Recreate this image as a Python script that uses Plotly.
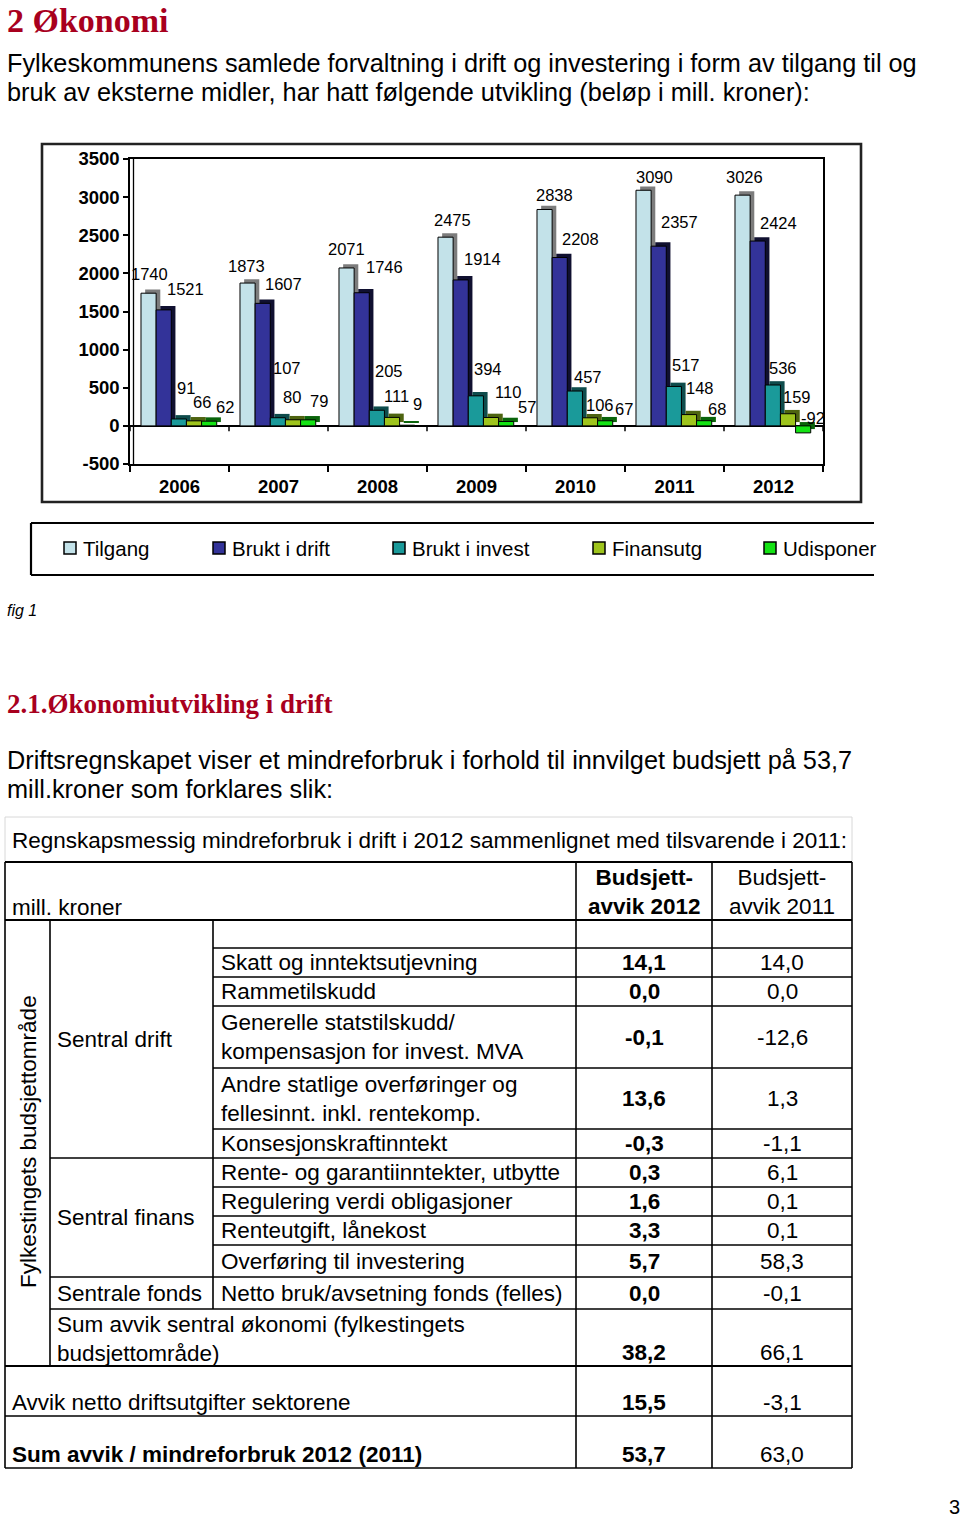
import plotly.graph_objects as go

# ---------------- data ----------------
years = ["2006", "2007", "2008", "2009", "2010", "2011", "2012"]
series_names = ["Tilgang", "Brukt i drift", "Brukt i invest", "Finansutg", "Udisponert"]
tilgang = [1740, 1873, 2071, 2475, 2838, 3090, 3026]
brukt_i_drift = [1521, 1607, 1746, 1914, 2208, 2357, 2424]
brukt_i_invest = [91, 107, 205, 394, 457, 517, 536]
finansutg = [66, 80, 111, 110, 106, 148, 159]
udisponert = [62, 79, 9, 57, 67, 68, -92]
y_tick_values = [-500, 0, 500, 1000, 1500, 2000, 2500, 3000, 3500]
# legend text as printed (last label is clipped by the legend box in the source)
legend_labels = ["Tilgang", "Brukt i drift", "Brukt i invest", "Finansutg", "Udisponer"]

table_title = "Regnskapsmessig mindreforbruk i drift i 2012 sammenlignet med tilsvarende i 2011:"
header_unit = "mill. kroner"
header_2012 = "Budsjett-<br>avvik 2012"
header_2011 = "Budsjett-<br>avvik 2011"
area_label = "Fylkestingets budsjettområde"
group_labels = ["Sentral drift", "Sentral finans", "Sentrale fonds"]
table_items = [
    "Skatt og inntektsutjevning",
    "Rammetilskudd",
    "Generelle statstilskudd/<br>kompensasjon for invest. MVA",
    "Andre statlige overføringer og<br>fellesinnt. inkl. rentekomp.",
    "Konsesjonskraftinntekt",
    "Rente- og garantiinntekter, utbytte",
    "Regulering verdi obligasjoner",
    "Renteutgift, lånekost",
    "Overføring til investering",
    "Netto bruk/avsetning fonds (felles)",
    "Sum avvik sentral økonomi (fylkestingets<br>budsjettområde)",
    "Avvik netto driftsutgifter sektorene",
    "<b>Sum avvik / mindreforbruk 2012 (2011)</b>",
]
avvik_2012 = [14.1, 0.0, -0.1, 13.6, -0.3, 0.3, 1.6, 3.3, 5.7, 0.0, 38.2, 15.5, 53.7]
avvik_2011 = [14.0, 0.0, -12.6, 1.3, -1.1, 6.1, 0.1, 0.1, 58.3, -0.1, 66.1, -3.1, 63.0]

# ---------------- layout constants ----------------
W, H = 960, 1519
SANS = "Liberation Sans, Arial, Helvetica, sans-serif"
SERIF = "Liberation Serif, Times New Roman, serif"
RED = "#A8001E"
COLORS = ["#C3E2E9", "#333399", "#1A9A9A", "#9EC41C", "#14E314"]
SHADOWS = ["#7C7C7C", "#101030", "#0E4C4C", "#4E6410", "#0A640A"]

# manual placement of the data labels, as in the source (pixel shift x, pixel lift y)
label_offsets = [
    [(1, 19), (-1, 17), (0, 19), (7, 17), (10, 14), (11, 13), (2, 18)],
    [(22, 21), (21, 19), (23, 26), (22, 21), (21, 19), (21, 24), (21, 18)],
    [(7, 31), (9, 50), (12, 39), (12, 27), (13, 14), (12, 21), (10, 17)],
    [(8, 19), (-1, 23), (4, 21), (17, 25), (10, 13), (11, 27), (9, 17)],
    [(16, 14), (11, 19), (10, 21), (21, 15), (19, 12), (13, 12), (10, 8)],
]


def px(x):
    return x / W


def py(y):
    return 1 - y / H


annotations = []
shapes = []


def text(x, y, s, size=22.5, bold=False, italic=False, color="black",
         xanchor="left", yanchor="middle", family=SANS, angle=0, align="left"):
    annotations.append(dict(
        x=px(x), y=py(y), xref="paper", yref="paper", text=s, showarrow=False,
        xanchor=xanchor, yanchor=yanchor, textangle=angle, align=align,
        font=dict(family=family, size=size, color=color,
                  weight="bold" if bold else "normal",
                  style="italic" if italic else "normal")))


def line(x0, y0, x1, y1, width=1.6, color="black"):
    shapes.append(dict(type="line", xref="paper", yref="paper",
                       x0=px(x0), y0=py(y0), x1=px(x1), y1=py(y1),
                       line=dict(color=color, width=width)))


def rect(x0, y0, x1, y1, width=1.5, color="black", fill="rgba(0,0,0,0)"):
    shapes.append(dict(type="rect", xref="paper", yref="paper",
                       x0=px(x0), y0=py(y0), x1=px(x1), y1=py(y1),
                       line=dict(color=color, width=width), fillcolor=fill))


# ---------------- page text ----------------
text(5, 20, "<b>2 Økonomi</b>", size=34, color=RED, family=SERIF)
text(5, 63, "Fylkeskommunens samlede forvaltning i drift og investering i form av tilgang til og", size=25.3)
text(5, 92, "bruk av eksterne midler, har hatt følgende utvikling (beløp i mill. kroner):", size=25.3)
text(5, 610, "fig 1", size=16, italic=True)
text(5, 704, "<b>2.1.Økonomiutvikling i drift</b>", size=27, color=RED, family=SERIF)
text(5, 760, "Driftsregnskapet viser et mindreforbruk i forhold til innvilget budsjett på 53,7", size=25.3)
text(5, 789, "mill.kroner som forklares slik:", size=25.3)
text(954, 1507, "3", size=20, xanchor="center")

# ---------------- chart ----------------
fig = go.Figure()
series = [tilgang, brukt_i_drift, brukt_i_invest, finansutg, udisponert]
BW = 0.153          # bar width (category units)
START = -0.389      # offset of first bar in a group
DEPTH_X = 0.042     # 3D depth shift (category units)
DEPTH_Y = 50        # 3D depth shift (value units)

for i, vals in enumerate(series):
    fig.add_trace(go.Bar(x=years, y=vals, base=DEPTH_Y, offset=START + i * BW + DEPTH_X,
                         width=BW, marker=dict(color=SHADOWS[i], line=dict(width=0)),
                         showlegend=False, hoverinfo="skip"))
for i, vals in enumerate(series):
    fig.add_trace(go.Bar(x=years, y=vals, offset=START + i * BW, width=BW,
                         name=series_names[i],
                         marker=dict(color=COLORS[i], line=dict(color="black", width=1))))

for i, vals in enumerate(series):
    for j, v in enumerate(vals):
        dx, dy = label_offsets[i][j]
        annotations.append(dict(
            x=j + START + i * BW + BW / 2, y=max(v, 0), xref="x", yref="y",
            text=str(v), showarrow=False, xanchor="center", yanchor="middle",
            xshift=dx, yshift=dy,
            font=dict(family=SANS, size=16.5, color="black")))

# tick marks on the zero (floor) line at category boundaries
for k in range(len(years) + 1):
    shapes.append(dict(type="line", xref="x", yref="y", x0=k - 0.5, x1=k - 0.5,
                       y0=0, y1=-70, line=dict(color="black", width=1.5)))

# double left wall line
line(133.5, 159, 133.5, 464, width=1.3)
# outer chart frame
rect(42, 144, 861, 502, width=2.6, color="#222222")

# legend box (right side clipped in source)
line(31, 523, 874, 523, width=2.2)
line(31, 575, 874, 575, width=2.2)
line(31, 523, 31, 575, width=2.2)
legend_x = [64, 213, 393, 593, 764]
for i, lx in enumerate(legend_x):
    rect(lx, 542, lx + 12, 554, width=1.5, color="black", fill=COLORS[i])
    text(lx + 17, 548, legend_labels[i], size=20.5)

# ---------------- table ----------------
TL, C1, C2, C3, C4, TR = 5, 50, 213, 576, 712, 852
rect(5, 817, 852, 862, width=1, color="#D8D8D8")
text(10, 840, table_title, size=22.5)

HEAD_TOP, HEAD_BOT, EMPTY_BOT = 862, 920, 948
row_edges = [948, 977, 1006, 1068, 1129, 1158, 1187, 1216, 1245, 1277, 1309, 1366, 1416, 1468]
group_spans = [(920, 1158), (1158, 1277), (1277, 1309)]

line(TL, HEAD_TOP, TR, HEAD_TOP, width=2.2)
line(TL, HEAD_BOT, TR, HEAD_BOT, width=2)
line(C2, EMPTY_BOT, TR, EMPTY_BOT)
for y in row_edges[1:]:
    if y in (1366, 1416, 1468):
        line(TL, y, TR, y, width=2 if y == 1366 else 1.6)
    elif y in (1158, 1277, 1309):
        line(C1, y, TR, y)
    else:
        line(C2, y, TR, y)
line(TL, HEAD_TOP, TL, 1468)
line(C1, HEAD_BOT, C1, 1366)
line(C2, HEAD_BOT, C2, 1309)
line(C3, HEAD_TOP, C3, 1468)
line(C4, HEAD_TOP, C4, 1468)
line(TR, HEAD_TOP, TR, 1468)

text(10, 907, header_unit)
text(644, 892, header_2012, bold=True, xanchor="center", align="center")
text(782, 892, header_2011, xanchor="center", align="center")
text(28, 1142, area_label, angle=-90, xanchor="center")
for (a, b), g in zip(group_spans, group_labels):
    text(55, (a + b) / 2, g)


def fmt(v):
    return f"{v:.1f}".replace(".", ",")


n = len(table_items)
for r in range(n):
    top, bot = row_edges[r], row_edges[r + 1]
    bottom_aligned = r >= n - 3
    yc = bot - 14 if bottom_aligned else (top + bot) / 2
    if r == n - 3:
        x_lab, y_lab = 55, (top + bot) / 2 + 1
    elif r >= n - 2:
        x_lab, y_lab = 10, yc
    else:
        x_lab, y_lab = 219, yc
    text(x_lab, y_lab, table_items[r])
    text(644, yc, fmt(avvik_2012[r]), bold=True, xanchor="center")
    text(782, yc, fmt(avvik_2011[r]), xanchor="center")

# ---------------- axes & layout ----------------
fig.update_layout(
    width=W, height=H, margin=dict(l=0, r=0, t=0, b=0, pad=0, autoexpand=False),
    paper_bgcolor="white", plot_bgcolor="white",
    barmode="overlay", showlegend=False,
    annotations=annotations, shapes=shapes,
    xaxis=dict(domain=[px(130), px(823)], range=[-0.5, len(years) - 0.5],
               type="category", tickson="boundaries", ticks="outside", ticklen=6,
               tickwidth=1.5, tickcolor="black", showline=True, linecolor="black",
               linewidth=1.5, mirror=True, showgrid=False, automargin=False,
               ticklabelstandoff=5,
               tickfont=dict(family=SANS, size=18.5, color="black", weight="bold")),
    yaxis=dict(domain=[py(464), py(159)], range=[-500, 3500],
               tickvals=y_tick_values, ticktext=[str(v) for v in y_tick_values],
               ticks="outside", ticklen=5, tickwidth=1.5, tickcolor="black",
               showline=True, linecolor="black", linewidth=1.5, mirror=True,
               showgrid=False, zeroline=True, zerolinecolor="black", zerolinewidth=1.5,
               automargin=False,
               tickfont=dict(family=SANS, size=18.5, color="black", weight="bold")),
)

fig.write_html("out.html")
